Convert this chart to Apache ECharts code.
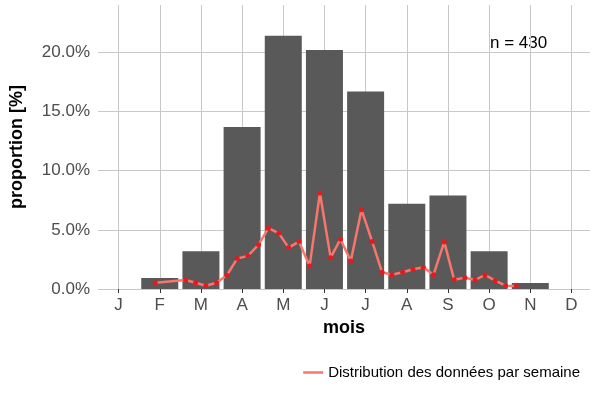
<!DOCTYPE html><html><head><meta charset="utf-8"><script src="https://cdn.jsdelivr.net/npm/echarts@6/dist/echarts.min.js"></script></head><body style="margin:0"><div id="c" style="width:600px;height:400px"></div><script>
const months=['J','F','M','A','M','J','J','A','S','O','N','D'];
const barVals=[0,0.93,3.2,13.7,21.4,20.2,16.7,7.2,7.9,3.2,0.5,0];
const weekX=[0.89,1.63,1.87,2.12,2.38,2.63,2.88,3.14,3.40,3.64,3.89,4.13,4.38,4.64,4.89,5.15,5.39,5.64,5.90,6.16,6.40,6.64,6.90,7.15,7.40,7.65,7.91,8.15,8.41,8.66,8.90,9.15,9.40,9.66];
const weekY=[0.53,0.76,0.53,0.28,0.53,1.16,2.57,2.80,3.75,5.14,4.72,3.50,4.01,1.95,8.11,2.65,4.21,2.37,6.69,4.01,1.41,1.21,1.41,1.67,1.84,1.21,3.98,0.79,0.96,0.76,1.19,0.7,0.28,0.25];
const idx=months.map((m,i)=>i);
const ch=echarts.init(document.getElementById('c'));
ch.setOption({
 animation:false,
 grid:{left:90,right:10,top:5,bottom:111},
 xAxis:{type:'value',min:-0.5,max:11.45,name:'mois',nameLocation:'middle',nameGap:28,
  nameTextStyle:{fontSize:18,fontWeight:'bold',color:'#000',fontFamily:'Liberation Sans'},
  axisLine:{show:false},axisTick:{show:true,customValues:idx,length:4,lineStyle:{color:'#333'}},
  axisLabel:{customValues:idx,formatter:v=>months[Math.round(v)],fontSize:17,color:'#4d4d4d',fontFamily:'Liberation Sans',margin:8},
  splitLine:{show:true,lineStyle:{color:'#c8c8c8'}}},
 yAxis:{type:'value',min:0,max:24,interval:5,name:'proportion [%]',nameLocation:'middle',nameGap:72,
  nameTextStyle:{fontSize:18,fontWeight:'bold',color:'#000',fontFamily:'Liberation Sans'},
  axisLabel:{showMaxLabel:false,formatter:v=>v.toFixed(1)+'%',fontSize:17,color:'#4d4d4d',fontFamily:'Liberation Sans'},
  splitLine:{showMaxLine:false,lineStyle:{color:'#c8c8c8'}},axisLine:{show:false},axisTick:{show:false}},
 legend:{bottom:15,right:15,itemWidth:20,icon:'path://M0,0 L20,0 L20,2.5 L0,2.5 Z',textStyle:{fontSize:15,color:'#000',fontFamily:'Liberation Sans'},
  data:[{name:'Distribution des données par semaine',itemStyle:{color:'#F8766D'}}]},
 graphic:[{type:'text',left:490,top:35,style:{text:'n = 430',fontSize:17,fill:'#000',fontFamily:'Liberation Sans'}}],
 series:[
  {type:'bar',data:barVals.map((v,i)=>[i,v]),barWidth:37,itemStyle:{color:'#595959'}},
  {type:'line',name:'Distribution des données par semaine',data:weekX.map((x,i)=>[x,weekY[i]]),
   lineStyle:{color:'#F8766D',width:2.5},itemStyle:{color:'#E41A1C'},symbol:'circle',symbolSize:5,z:5}
 ]});
</script></body></html>
